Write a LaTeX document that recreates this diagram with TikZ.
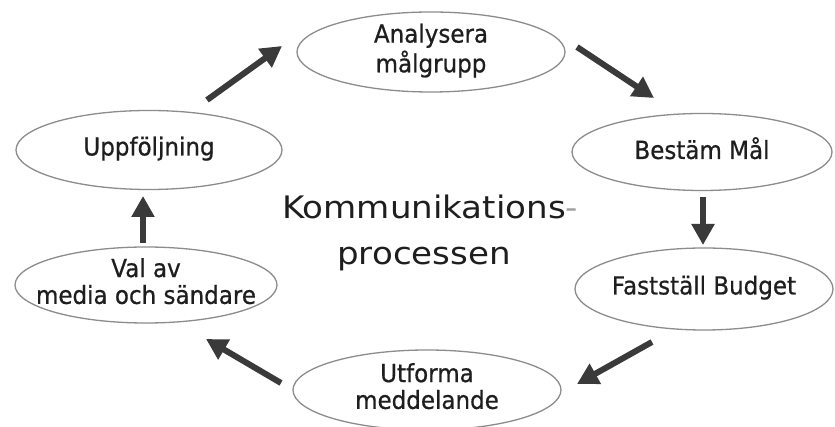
\documentclass[tikz,border=0pt]{standalone}
\usepackage{fontspec}
\setmainfont{DejaVu Sans}
\newfontfamily\lblfont[FakeBold=0.7]{DejaVu Sans}
\usetikzlibrary{arrows.meta,shapes.geometric}
\definecolor{txt}{HTML}{1E1E1E}
\definecolor{edgegray}{HTML}{8C8C8C}
\definecolor{arr}{HTML}{3A3A3A}
\definecolor{hyph}{HTML}{A0A0A0}
\newcommand{\elbl}[1]{\scalebox{1}[1.08]{\lblfont\fontsize{23}{24.5}\selectfont\begin{tabular}{@{}c@{}}#1\end{tabular}}}
\begin{document}
\begin{tikzpicture}[x=1pt,y=-1pt,
  stage/.style={ellipse, draw=edgegray, line width=1.3pt, fill=white, inner sep=-30pt, text=txt},
  flow/.style={draw=arr, line width=6pt, -{Triangle[length=21pt,width=22pt]}},
  title/.style={text=txt, inner sep=0pt}]
\useasboundingbox (0,0) rectangle (835,427);
\clip (0,0) rectangle (835,427);
\fill[white] (0,0) rectangle (835,427);

\node[stage, minimum width=268pt, minimum height=80pt] (ana) at (431,52) {\elbl{Analysera\\målgrupp}};
\node[stage, minimum width=260pt, minimum height=77pt] (mal) at (702,152) {\elbl{Bestäm Mål}};
\node[stage, minimum width=258pt, minimum height=82pt] (bud) at (704,289) {\elbl{Fastställ Budget}};
\node[stage, minimum width=268pt, minimum height=80pt] (utf) at (427,390) {\elbl{Utforma\\meddelande}};
\node[stage, minimum width=262pt, minimum height=76pt] (val) at (146,285) {\elbl{Val av\\media och sändare}};
\node[stage, minimum width=266pt, minimum height=79pt] (upp) at (149,150) {\elbl{Uppföljning}};

\node[title] (ctr) at (424,232) {\scalebox{1.1}[1]{\fontsize{31}{46}\selectfont\begin{tabular}{@{}c@{}}Kommunikations\rlap{\color{hyph}-}\\processen\end{tabular}}};

\coordinate (t1) at (207,100); \coordinate (h1) at (282,46);
\coordinate (t2) at (577,47);  \coordinate (h2) at (654,98);
\coordinate (t3) at (703,197); \coordinate (h3) at (703,245);
\coordinate (t4) at (652,342); \coordinate (h4) at (577,384);
\coordinate (t5) at (281,383); \coordinate (h5) at (206,339);
\coordinate (t6) at (143,243); \coordinate (h6) at (143,196);

\draw[flow] (t1) -- (h1);
\draw[flow] (t2) -- (h2);
\draw[flow] (t3) -- (h3);
\draw[flow] (t4) -- (h4);
\draw[flow] (t5) -- (h5);
\draw[flow] (t6) -- (h6);
\end{tikzpicture}
\end{document}
